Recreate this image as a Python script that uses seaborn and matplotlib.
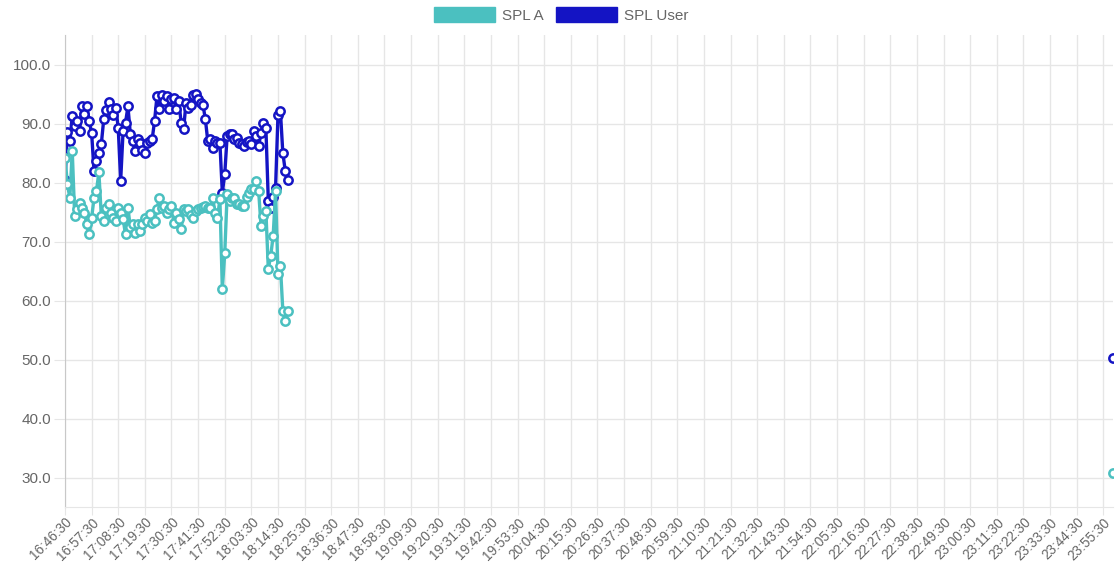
import pandas as pd
import numpy as np
import matplotlib.pyplot as plt
import seaborn as sns
from matplotlib.patches import Patch

# minute labels on the category axis, 16:46:30 .. 23:59:30
time_labels = pd.date_range("2020-01-01 16:46:30", "2020-01-01 23:59:30", freq="min").strftime("%H:%M:%S").tolist()

# first run of readings (one per minute from 16:46:30)
spl_user = [80.5, 88.5, 87.0, 91.3, 89.5, 90.4, 88.7, 92.9, 91.6, 92.9,
            90.4, 88.4, 81.9, 83.6, 85.0, 86.5, 90.7, 92.3, 93.7, 92.4,
            91.5, 92.7, 89.2, 80.3, 88.7, 90.1, 92.9, 88.2, 87.0, 85.3,
            87.3, 86.7, 85.5, 85.0, 86.7, 87.0, 87.3, 90.4, 94.6, 92.4,
            94.9, 93.8, 94.6, 92.4, 94.1, 94.3, 92.4, 93.8, 90.1, 89.1,
            93.5, 92.7, 93.2, 94.9, 95.0, 94.1, 93.5, 93.2, 90.7, 87.0,
            87.3, 85.9, 87.0, 86.7, 86.7, 78.3, 81.4, 87.9, 88.2, 88.2,
            87.3, 87.5, 86.7, 86.5, 86.2, 86.8, 87.0, 86.6, 88.7, 87.9,
            86.2, 88.4, 90.1, 89.3, 76.9, 75.7, 77.5, 79.1, 91.5, 92.1,
            85.0, 82.0, 80.5]
spl_a = [84.2, 79.7, 77.4, 85.3, 74.3, 75.5, 76.6, 75.7, 74.9, 72.9,
         71.2, 74.0, 77.4, 78.6, 81.7, 74.3, 73.5, 75.7, 76.3, 74.9,
         74.0, 73.5, 75.7, 74.9, 73.8, 71.2, 75.7, 72.4, 73.0, 71.5,
         72.9, 71.8, 73.0, 74.0, 73.5, 74.7, 73.2, 73.5, 75.5, 77.4,
         75.7, 76.0, 74.9, 75.5, 76.0, 73.2, 74.9, 73.8, 72.1, 75.5,
         75.2, 75.5, 74.5, 74.0, 75.2, 75.5, 75.7, 75.8, 76.0, 75.7,
         75.7, 77.4, 74.9, 74.0, 77.2, 61.9, 68.0, 78.0, 76.9, 77.4,
         77.4, 76.3, 76.3, 76.0, 76.0, 77.5, 78.3, 78.9, 78.9, 80.3,
         78.6, 72.6, 74.3, 75.2, 65.3, 67.6, 70.9, 78.5, 64.5, 65.9,
         58.3, 56.6, 58.3]

# single reading at the end of the axis (23:59:30)
last_user = 50.2
last_a = 30.8

teal = "#4bc0c0"
blue = "#1414c4"

df = pd.DataFrame({"pos": np.arange(len(spl_user)), "user": spl_user, "a": spl_a})
end = pd.DataFrame({"pos": [len(time_labels) - 1], "user": [last_user], "a": [last_a]})

fig = plt.figure(figsize=(11.16, 5.62), dpi=100)
ax = fig.add_axes([65 / 1116, 55 / 562, 1048 / 1116, 472 / 562])

# Chart.js draws the first dataset on top, so blue goes first
for col, c in [("user", blue), ("a", teal)]:
    sns.lineplot(data=df, x="pos", y=col, ax=ax, color=c, linewidth=2.4,
                 marker="o", markersize=6, markerfacecolor="white",
                 markeredgecolor=c, markeredgewidth=1.8, clip_on=True)
    sns.scatterplot(data=end, x="pos", y=col, ax=ax, color="white",
                    edgecolor=c, linewidth=1.8, s=36, zorder=3, clip_on=True)

tick_pos = list(range(0, len(time_labels), 11))
ax.set_xticks(tick_pos)
ax.set_xticklabels([time_labels[i] for i in tick_pos], rotation=45, ha="right",
                   rotation_mode="anchor", color="#666666", fontsize=9.8,
                   family="Liberation Sans")
ax.set_yticks(np.arange(30, 101, 10))
ax.set_yticklabels([f"{v:.1f}" for v in np.arange(30, 101, 10)], color="#666666",
                   fontsize=11, family="Liberation Sans")
ax.set_xlim(0, len(time_labels) - 1)
ax.set_ylim(25, 105)
ax.set_xlabel("")
ax.set_ylabel("")

ax.grid(True, color="#e6e6e6", linewidth=1)
ax.set_axisbelow(True)
ax.tick_params(axis="x", length=6, color="#e6e6e6", pad=0)
ax.tick_params(axis="y", length=8, color="#e6e6e6", pad=2)
for s in ["top", "right"]:
    ax.spines[s].set_visible(False)
ax.spines["left"].set_color("#c8c8c8")
ax.spines["bottom"].set_color("#e6e6e6")

handles = [Patch(facecolor=teal, edgecolor=teal), Patch(facecolor=blue, edgecolor=blue)]
leg = fig.legend(handles, ["SPL A", "SPL User"], loc="upper center", ncol=2,
                 frameon=False, bbox_to_anchor=(0.503, 1.012), handlelength=4.0,
                 handleheight=1.1, handletextpad=0.45, columnspacing=0.8,
                 prop={"family": "Liberation Sans", "size": 11})
for t in leg.get_texts():
    t.set_color("#666666")

fig.savefig("out.png", dpi=100)
